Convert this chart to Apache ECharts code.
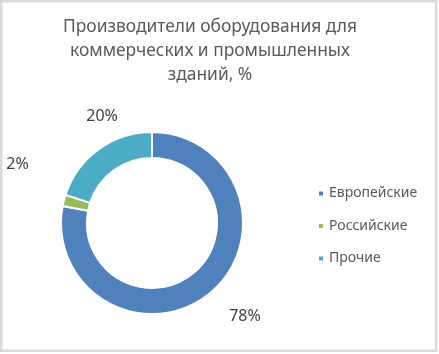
<!DOCTYPE html>
<html>
<head>
<meta charset="utf-8">
<script src="https://cdn.jsdelivr.net/npm/echarts@6/dist/echarts.min.js"></script>
<style>
    html, body { margin: 0; padding: 0; background: #fff; }
    #charts { width: 439px; height: 354px; }
</style>
</head>
<body>
<div id="charts"></div>
<script>
    var names = ['Европейские', 'Российские', 'Прочие'];
    var values = [78, 2, 20];
    var colors = ['#4F81BD', '#9BBB59', '#4BACC6'];
    var titleText = 'Производители оборудования для\nкоммерческих и промышленных\nзданий, %';

    (function () {
        var dom = document.getElementById('charts');
        var myChart = echarts.init(dom);

        // Excel moved two of the labels by hand, nudge them the same way
        var nudge = {1: [-6, -28], 2: [37, -9]};

        var option = {
            animation: false,
            color: colors,
            title: {
                text: titleText,
                left: 205,
                top: 10,
                textAlign: 'center',
                textStyle: {
                    fontFamily: 'Noto Sans',
                    fontSize: 17.4,
                    fontWeight: 'normal',
                    color: '#595959',
                    lineHeight: 24
                }
            },
            legend: {
                orient: 'vertical',
                left: 312,
                top: 181,
                itemWidth: 6,
                itemHeight: 6,
                itemGap: 17.5,
                icon: 'rect',
                data: names,
                textStyle: {
                    fontFamily: 'Noto Sans',
                    fontSize: 14,
                    color: '#595959',
                    lineHeight: 15
                }
            },
            graphic: [{
                type: 'rect',
                shape: {x: 1.25, y: 1.25, width: 435, height: 349.5},
                style: {fill: 'none', stroke: '#d9d9d9', lineWidth: 2.5}
            }],
            series: [{
                type: 'pie',
                center: [152, 223],
                radius: [65, 91],
                startAngle: 90,
                avoidLabelOverlap: false,
                itemStyle: {borderColor: '#fff', borderWidth: 2},
                label: {
                    show: true,
                    position: 'outside',
                    formatter: '{c}%',
                    distanceToLabelLine: 0,
                    fontFamily: 'Noto Sans',
                    fontSize: 16,
                    color: '#404040'
                },
                labelLine: {show: false, length: 30, length2: 0},
                labelLayout: function (params) {
                    var n = nudge[params.dataIndex];
                    return n ? {dx: n[0], dy: n[1]} : {};
                },
                emphasis: {disabled: true},
                data: names.map(function (n, i) {
                    return {name: n, value: values[i]};
                })
            }]
        };
        myChart.setOption(option, true);
    })();
</script>
</body>
</html>
